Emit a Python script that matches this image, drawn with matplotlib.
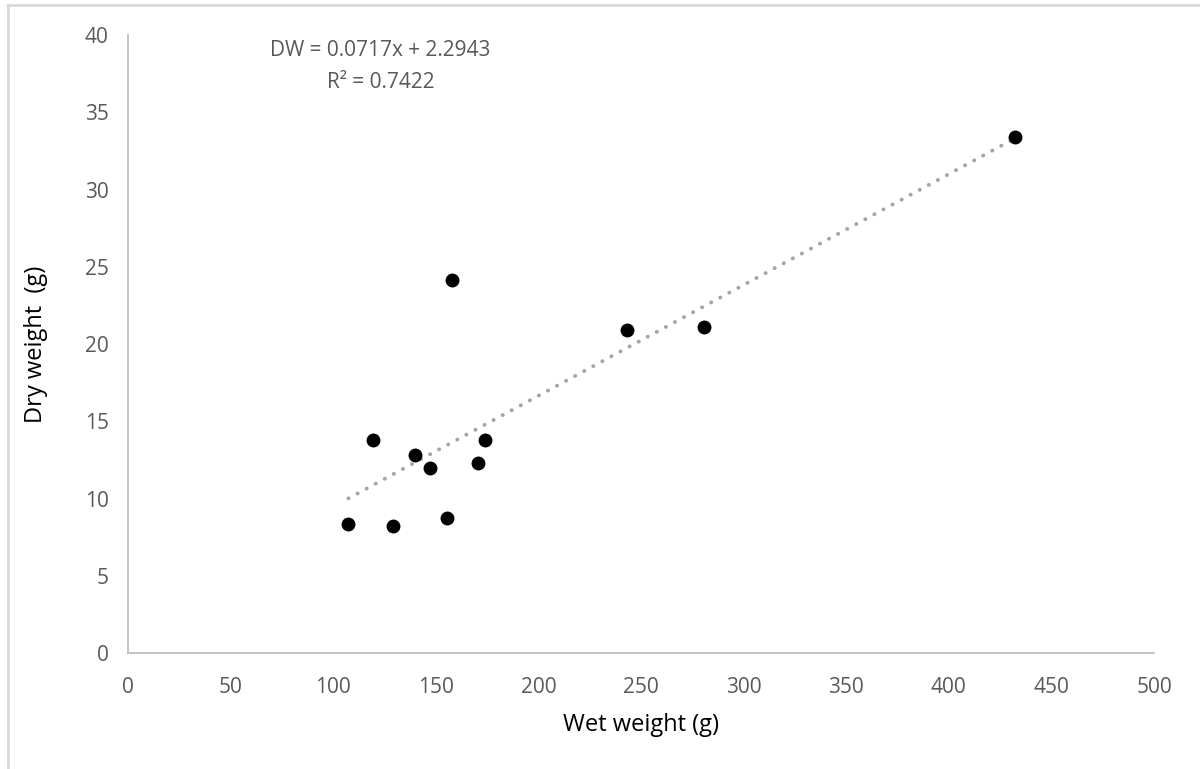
import matplotlib.pyplot as plt
import numpy as np
from matplotlib.lines import Line2D

wet_weight = [107.4, 129.3, 155.4, 119.4, 139.7, 147.2, 170.4, 174.0, 157.8, 243.4, 280.5, 432.3]
dry_weight = [8.33, 8.22, 8.72, 13.81, 12.82, 11.99, 12.32, 13.77, 24.12, 20.9, 21.12, 33.42]
x_ticks = [0, 50, 100, 150, 200, 250, 300, 350, 400, 450, 500]
y_ticks = [0, 5, 10, 15, 20, 25, 30, 35, 40]

plt.rcParams['font.family'] = ['Open Sans', 'DejaVu Sans']

fig = plt.figure(figsize=(12, 7.69), dpi=100)
ax = fig.add_axes([0.1067, 0.1508, 0.855, 0.8037])

# linear trend line over the data range
xs = np.array(wet_weight)
ys = np.array(dry_weight)
slope, intercept = np.polyfit(xs, ys, 1)
xl = np.array([xs.min(), xs.max()])
ax.plot(xl, slope * xl + intercept, color='#a5a5a5', lw=2.8,
        linestyle=(0, (0.05, 2.6)), dash_capstyle='round', zorder=2)

ax.scatter(wet_weight, dry_weight, s=100, color='black', zorder=3, linewidths=0)

ax.set_xlim(0, 500)
ax.set_ylim(0, 40)
ax.set_xticks(x_ticks)
ax.set_yticks(y_ticks)
ax.tick_params(length=0, labelsize=15, labelcolor='#595959')
ax.tick_params(axis='x', pad=17)
ax.tick_params(axis='y', pad=14)

for s in ['top', 'right']:
    ax.spines[s].set_visible(False)
for s in ['left', 'bottom']:
    ax.spines[s].set_color('#bfbfbf')
    ax.spines[s].set_linewidth(1.3)

ax.set_xlabel('Wet weight (g)', fontsize=17, color='black', labelpad=11)
ax.set_ylabel('Dry weight  (g)', fontsize=17, color='black', labelpad=26)

ax.text(0.246, 0.992, 'DW = 0.0717x + 2.2943\nR² = 0.7422', transform=ax.transAxes,
        ha='center', va='top', fontsize=15, color='#595959', linespacing=1.7)

# outer chart border (partly cropped)
fig.add_artist(Line2D([0.0067, 1.0], [0.9935, 0.9935], color='#d9d9d9', lw=2))
fig.add_artist(Line2D([0.0067, 0.0067], [0.0, 0.9935], color='#d9d9d9', lw=2))

fig.savefig('out.png', dpi=100)
